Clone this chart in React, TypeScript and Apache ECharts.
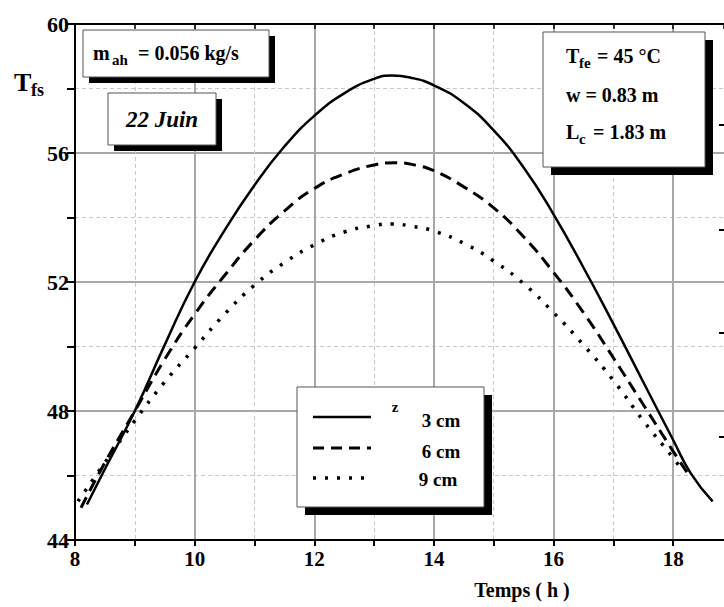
import React, { useEffect, useRef } from "react";
import * as echarts from "echarts";

// Data
const hours3 = [8.2, 8.5, 9, 9.5, 10, 10.5, 11, 11.5, 12, 12.5, 13, 13.3, 13.6, 14, 14.5, 15, 15.5, 16, 16.5, 17, 17.5, 18, 18.3, 18.66];
const temp3 = [45.1, 46.2, 48.0, 50.05, 52.0, 53.6, 55.0, 56.2, 57.15, 57.85, 58.3, 58.4, 58.34, 58.1, 57.55, 56.7, 55.55, 54.1, 52.45, 50.7, 48.9, 47.1, 46.05, 45.2];

const hours6 = [8.1, 8.5, 9, 9.5, 10, 10.5, 11, 11.5, 12, 12.5, 13, 13.35, 13.7, 14, 14.5, 15, 15.5, 16, 16.5, 17, 17.5, 18, 18.25];
const temp6 = [45.0, 46.4, 48.0, 49.6, 51.0, 52.2, 53.3, 54.2, 54.9, 55.35, 55.63, 55.7, 55.62, 55.45, 54.95, 54.3, 53.4, 52.3, 51.05, 49.65, 48.2, 46.75, 46.05];

const hours9 = [8.05, 8.5, 9, 9.5, 10, 10.5, 11, 11.5, 12, 12.5, 13, 13.3, 13.65, 14, 14.5, 15, 15.5, 16, 16.5, 17, 17.5, 18, 18.1];
const temp9 = [45.2, 46.4, 47.7, 48.9, 49.95, 51.0, 51.9, 52.6, 53.15, 53.55, 53.75, 53.8, 53.72, 53.58, 53.2, 52.65, 51.95, 51.05, 50.05, 48.95, 47.7, 46.55, 46.3];

const legendLabels = ["3 cm", "6 cm", "9 cm"];
const xTitle = "Temps ( h )";

const FONT = "'Liberation Serif', 'Times New Roman', serif";

const zip = (xs: number[], ys: number[]) => xs.map((x, i) => [x, ys[i]]);

function shadowBox(x: number, y: number, w: number, h: number, off: number) {
  return [
    { type: "rect", z: 100, shape: { x: x + off, y: y + off, width: w, height: h }, style: { fill: "#000" } },
    { type: "rect", z: 101, shape: { x, y, width: w, height: h }, style: { fill: "#fff", stroke: "#555", lineWidth: 1 } },
  ];
}

function txt(text: string, x: number, y: number, size: number, extra: any = {}) {
  return {
    type: "text",
    z: 102,
    x,
    y,
    style: {
      text,
      fill: "#000",
      font: `${extra.italic ? "italic " : ""}bold ${size}px ${FONT}`,
      textAlign: extra.align || "left",
      textVerticalAlign: "middle",
    },
  };
}

export default function App() {
  const ref = useRef<HTMLDivElement>(null);
  useEffect(() => {
    const chart = echarts.init(ref.current!, null, { renderer: "svg" });
    const axisLabelStyle = { fontFamily: FONT, fontWeight: "bold", fontSize: 21, color: "#000" };
    const option: any = {
      animation: false,
      backgroundColor: "#fff",
      grid: { left: 75, right: 0, top: 24, bottom: 67, containLabel: false },
      xAxis: [
        {
          type: "value", position: "bottom", min: 8, max: 18.85, interval: 1,
          axisLine: { show: true, onZero: false, lineStyle: { color: "#000", width: 2 } },
          axisTick: { show: true, length: 6, lineStyle: { color: "#000", width: 2 } },
          axisLabel: {
            ...axisLabelStyle, margin: 8, showMaxLabel: false,
            formatter: (v: number) => (Number.isInteger(v) && v % 2 === 0 ? String(v) : ""),
          },
          splitLine: { show: true, showMinLine: false, showMaxLine: false, lineStyle: { color: "#c8c8c8", width: 1, type: [4, 3] } },
        },
        {
          type: "value", position: "top", min: 8, max: 18.85, interval: 1,
          axisLine: { show: true, onZero: false, lineStyle: { color: "#000", width: 2 } },
          axisTick: { show: true, inside: true, length: 5, lineStyle: { color: "#000", width: 1.5 } },
          axisLabel: { show: false },
          splitLine: { show: false },
        },
        {
          type: "value", position: "bottom", min: 8, max: 18.85, interval: 2,
          axisLine: { show: false }, axisTick: { show: false }, axisLabel: { show: false },
          splitLine: { show: true, showMinLine: false, showMaxLine: false, lineStyle: { color: "#a8a8a8", width: 2 } },
        },
      ],
      yAxis: [
        {
          type: "value", position: "left", min: 44, max: 60, interval: 2,
          axisLine: { show: true, onZero: false, lineStyle: { color: "#000", width: 2 } },
          axisTick: { show: true, length: 8, lineStyle: { color: "#000", width: 2 } },
          axisLabel: {
            ...axisLabelStyle, fontSize: 22, margin: 6,
            formatter: (v: number) => (v % 4 === 0 ? String(v) : ""),
          },
          splitLine: { show: true, showMinLine: false, showMaxLine: false, lineStyle: { color: "#c8c8c8", width: 1, type: [4, 3] } },
        },
        {
          type: "value", position: "left", min: 44, max: 60, interval: 4,
          axisLine: { show: false }, axisTick: { show: false }, axisLabel: { show: false },
          splitLine: { show: true, showMinLine: false, showMaxLine: false, lineStyle: { color: "#a8a8a8", width: 2 } },
        },
      ],
      series: [
        {
          name: legendLabels[0], type: "line", xAxisIndex: 0, yAxisIndex: 0, smooth: 0.5, showSymbol: false, symbol: "none",
          lineStyle: { color: "#000", width: 2.5 }, data: zip(hours3, temp3), z: 5,
        },
        {
          name: legendLabels[1], type: "line", xAxisIndex: 0, yAxisIndex: 0, smooth: 0.5, showSymbol: false, symbol: "none",
          lineStyle: { color: "#000", width: 3, type: [12, 7] }, data: zip(hours6, temp6), z: 5,
        },
        {
          name: legendLabels[2], type: "line", xAxisIndex: 0, yAxisIndex: 0, smooth: 0.5, showSymbol: false, symbol: "none",
          lineStyle: { color: "#000", width: 3.5, type: [3, 9] }, data: zip(hours9, temp9), z: 5,
        },
      ],
      graphic: [
        // y-axis title
        txt("T", 14, 82, 26),
        txt("fs", 31, 90, 18),
        // x-axis title
        txt(xTitle, 522, 590, 20, { align: "center" }),
        // m_ah box
        ...shadowBox(83, 30, 186, 47, 6),
        txt("m", 93, 53, 20),
        txt("ah", 112, 60, 15),
        txt("= 0.056 kg/s", 138, 53, 20),
        // 22 Juin box
        ...shadowBox(108, 93, 108, 52, 6),
        txt("22 Juin", 162, 119, 23, { align: "center", italic: true }),
        // right box
        ...shadowBox(543, 32, 162, 135, 8),
        txt("T", 566, 56, 20),
        txt("fe", 579, 63, 15),
        txt("= 45 °C", 597, 56, 20),
        txt("w = 0.83 m", 566, 95, 20),
        txt("L", 566, 132, 20),
        txt("c", 579, 139, 15),
        txt("= 1.83 m", 593, 132, 20),
        // legend box
        ...shadowBox(297, 387, 187, 120, 8),
        { type: "line", z: 102, shape: { x1: 313, y1: 417, x2: 371, y2: 417 }, style: { stroke: "#000", lineWidth: 2.5 } },
        { type: "line", z: 102, shape: { x1: 313, y1: 448, x2: 371, y2: 448 }, style: { stroke: "#000", lineWidth: 3, lineDash: [11, 7] } },
        { type: "line", z: 102, shape: { x1: 313, y1: 478, x2: 371, y2: 478 }, style: { stroke: "#000", lineWidth: 3.5, lineDash: [3, 9] } },
        txt("z", 395, 407, 15, { align: "center" }),
        txt(legendLabels[0], 441, 420, 19, { align: "center" }),
        txt(legendLabels[1], 441, 451, 19, { align: "center" }),
        txt(legendLabels[2], 438, 479, 19, { align: "center" }),
        // marks at right edge (cropped neighbour)
        { type: "rect", z: 102, shape: { x: 719, y: 124, width: 5, height: 2 }, style: { fill: "#000" } },
        { type: "rect", z: 102, shape: { x: 719, y: 229, width: 5, height: 2 }, style: { fill: "#000" } },
        { type: "rect", z: 102, shape: { x: 719, y: 332, width: 5, height: 2 }, style: { fill: "#000" } },
        { type: "rect", z: 102, shape: { x: 719, y: 436, width: 5, height: 2 }, style: { fill: "#000" } },
      ],
    };
    chart.setOption(option);
    return () => chart.dispose();
  }, []);
  return (
    <div
      ref={ref}
      style={{ position: "fixed", left: 0, top: 0, width: 724, height: 607, background: "#fff" }}
    />
  );
}
